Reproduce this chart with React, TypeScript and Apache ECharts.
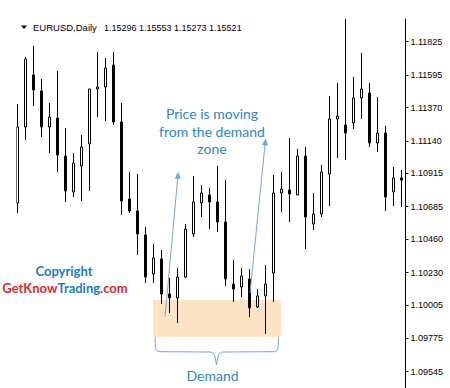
import React, { useEffect, useRef } from "react";
import * as echarts from "echarts";

// OHLC values (EURUSD, Daily)
const opens = [1.107106, 1.112357, 1.115949, 1.114844, 1.112357, 1.112978, 1.110353, 1.107866, 1.109662, 1.111182, 1.114982, 1.11512, 1.11664, 1.112702, 1.107382, 1.106553, 1.104895, 1.1022, 1.103237, 1.100819, 1.100542, 1.101993, 1.104964, 1.107106, 1.107658, 1.107175, 1.105793, 1.101509, 1.101302, 1.101855, 1.09992, 1.10068, 1.102269, 1.107797, 1.108004, 1.107658, 1.110353, 1.105655, 1.106346, 1.109109, 1.112909, 1.112495, 1.112633, 1.11436, 1.114706, 1.111251, 1.111942, 1.107866, 1.108833];
const closes = [1.112357, 1.117055, 1.114913, 1.112357, 1.113048, 1.110422, 1.107935, 1.109869, 1.110975, 1.114982, 1.11512, 1.116433, 1.112702, 1.107244, 1.106553, 1.104964, 1.101993, 1.103306, 1.100819, 1.100542, 1.101993, 1.105309, 1.107175, 1.107797, 1.107175, 1.105793, 1.101855, 1.101164, 1.102062, 1.099851, 1.10068, 1.101509, 1.107797, 1.108073, 1.107728, 1.110353, 1.106139, 1.106346, 1.109248, 1.112909, 1.113117, 1.111942, 1.11436, 1.114982, 1.111251, 1.111942, 1.10752, 1.108833, 1.108695];
const lows = [1.106415, 1.111458, 1.113807, 1.111666, 1.11056, 1.109248, 1.107175, 1.10752, 1.107244, 1.107935, 1.113048, 1.112771, 1.112495, 1.106277, 1.106415, 1.103513, 1.101579, 1.101579, 1.100128, 1.099506, 1.098815, 1.101924, 1.104757, 1.106139, 1.105309, 1.105102, 1.101371, 1.100266, 1.100611, 1.09923, 1.099851, 1.098055, 1.100266, 1.106484, 1.105793, 1.107658, 1.103928, 1.10524, 1.106139, 1.106899, 1.110215, 1.110077, 1.112218, 1.112909, 1.110975, 1.110629, 1.106553, 1.106899, 1.106829];
const highs = [1.113946, 1.117193, 1.117953, 1.115673, 1.114015, 1.116226, 1.112288, 1.11056, 1.111804, 1.114982, 1.117538, 1.117124, 1.117538, 1.114015, 1.109248, 1.109109, 1.105448, 1.104273, 1.103859, 1.101924, 1.102615, 1.105655, 1.108971, 1.108349, 1.108142, 1.109662, 1.108695, 1.103168, 1.102615, 1.102546, 1.101164, 1.102822, 1.10904, 1.109248, 1.111597, 1.110837, 1.110975, 1.107797, 1.109731, 1.114498, 1.115397, 1.119818, 1.115811, 1.117469, 1.115397, 1.114429, 1.112426, 1.109593, 1.109386];

const categories = opens.map((_, i) => String(i + 1));

const priceTicks = [1.11825, 1.11595, 1.1137, 1.1114, 1.10915, 1.10685, 1.1046, 1.1023, 1.10005, 1.09775, 1.09545];
const yMin = 1.094324;
const yMax = 1.119818;

const headerSymbol = "EURUSD,Daily";
const headerQuote = "1.15296 1.15553 1.15273 1.15521";

const annotationText = "Price is moving\nfrom the demand\nzone";
const zoneLabel = "Demand";

export default function App() {
  const ref = useRef<HTMLDivElement>(null);

  useEffect(() => {
    if (!ref.current) return;
    const chart = echarts.init(ref.current, undefined, { renderer: "svg" });
    const data = opens.map((o, i) => [o, closes[i], lows[i], highs[i]]);
    const blue = "#2E86C6";
    const arrowColor = "#6FA8DC";
    const option: any = {
      animation: false,
      grid: { left: 13.5, right: 44.5, top: 19, bottom: 0 },
      xAxis: {
        type: "category",
        data: categories,
        show: false,
        boundaryGap: true,
      },
      yAxis: {
        type: "value",
        position: "right",
        min: yMin,
        max: yMax,
        scale: true,
        axisLine: { show: true, lineStyle: { color: "#000", width: 1 } },
        axisTick: {
          show: true,
          length: 3,
          customValues: priceTicks,
          lineStyle: { color: "#000" },
        },
        axisLabel: {
          show: true,
          customValues: priceTicks,
          formatter: (v: number) => v.toFixed(5),
          color: "#000",
          fontFamily: "Liberation Sans",
          fontSize: 9,
          margin: 5,
        },
        splitLine: { show: false },
      },
      series: [
        {
          type: "candlestick",
          data,
          barWidth: 3,
          itemStyle: {
            color: "#fff",
            color0: "#000",
            borderColor: "#000",
            borderColor0: "#000",
            borderWidth: 1,
          },
        },
      ],
      graphic: [
        {
          type: "rect",
          z: -5,
          shape: { x: 153, y: 300, width: 128, height: 37 },
          style: { fill: "#FDE4C6" },
        },
        {
          type: "rect",
          z: 50,
          shape: { x: 0, y: 19, width: 16.4, height: 210 },
          style: { fill: "#fff" },
        },
        {
          type: "polygon",
          z: 60,
          shape: { points: [[21, 25.5], [27, 25.5], [24, 29]] },
          style: { fill: "#000" },
        },
        {
          type: "text",
          z: 60,
          x: 33,
          y: 27.5,
          style: {
            text: headerSymbol,
            fill: "#000",
            fontFamily: "Liberation Sans",
            fontSize: 9.5,
            verticalAlign: "middle",
            align: "left",
          },
        },
        {
          type: "text",
          z: 60,
          x: 104,
          y: 27.5,
          style: {
            text: headerQuote,
            fill: "#000",
            fontFamily: "Liberation Sans",
            fontSize: 9,
            verticalAlign: "middle",
            align: "left",
          },
        },
        {
          type: "text",
          z: 60,
          x: 212,
          y: 131,
          style: {
            text: annotationText,
            fill: blue,
            fontFamily: "Lato",
            fontSize: 14,
            lineHeight: 17.5,
            align: "center",
            verticalAlign: "middle",
          },
        },
        {
          type: "line",
          z: 60,
          shape: { x1: 165, y1: 317, x2: 177.8, y2: 177 },
          style: { stroke: arrowColor, lineWidth: 1 },
        },
        {
          type: "polygon",
          z: 60,
          shape: { points: [[178.3, 171.7], [180.7, 179], [174.7, 178.4]] },
          style: { fill: arrowColor },
        },
        {
          type: "line",
          z: 60,
          shape: { x1: 250, y1: 293, x2: 265.2, y2: 143 },
          style: { stroke: arrowColor, lineWidth: 1 },
        },
        {
          type: "polygon",
          z: 60,
          shape: { points: [[265.7, 138.3], [268, 145.6], [262, 145]] },
          style: { fill: arrowColor },
        },
        {
          type: "text",
          z: 60,
          x: 64,
          y: 271,
          style: {
            text: "Copyright",
            fill: "#1F7BC0",
            fontFamily: "Lato",
            fontWeight: "bold",
            fontSize: 13,
            align: "center",
            verticalAlign: "middle",
          },
        },
        {
          type: "text",
          z: 60,
          x: 65,
          y: 288,
          style: {
            text: "{r|GetKnow}{b|Trading}{r|.com}",
            fontFamily: "Lato",
            fontWeight: "bold",
            fontSize: 13,
            align: "center",
            verticalAlign: "middle",
            rich: {
              r: { fill: "#D42B36", fontFamily: "Lato", fontWeight: "bold", fontSize: 13 },
              b: { fill: "#1F7BC0", fontFamily: "Lato", fontWeight: "bold", fontSize: 13 },
            },
          },
        },
        {
          type: "polyline",
          z: 60,
          shape: {
            points: [
              [155, 337], [155.3, 347], [156.5, 350.3], [159, 351.7], [211, 352],
              [214.5, 354.5], [216.5, 365], [218.5, 354.5], [222, 352],
              [274.5, 351.7], [277, 350.3], [278.2, 347], [278.5, 337],
            ],
          },
          style: { stroke: arrowColor, lineWidth: 1, fill: "none" },
        },
        {
          type: "text",
          z: 60,
          x: 212.5,
          y: 375,
          style: {
            text: zoneLabel,
            fill: blue,
            fontFamily: "Lato",
            fontSize: 14,
            align: "center",
            verticalAlign: "middle",
          },
        },
      ],
    };
    chart.setOption(option);
    return () => chart.dispose();
  }, []);

  return (
    <div
      ref={ref}
      style={{ position: "fixed", left: 0, top: 0, width: 450, height: 388, background: "#fff" }}
    />
  );
}
